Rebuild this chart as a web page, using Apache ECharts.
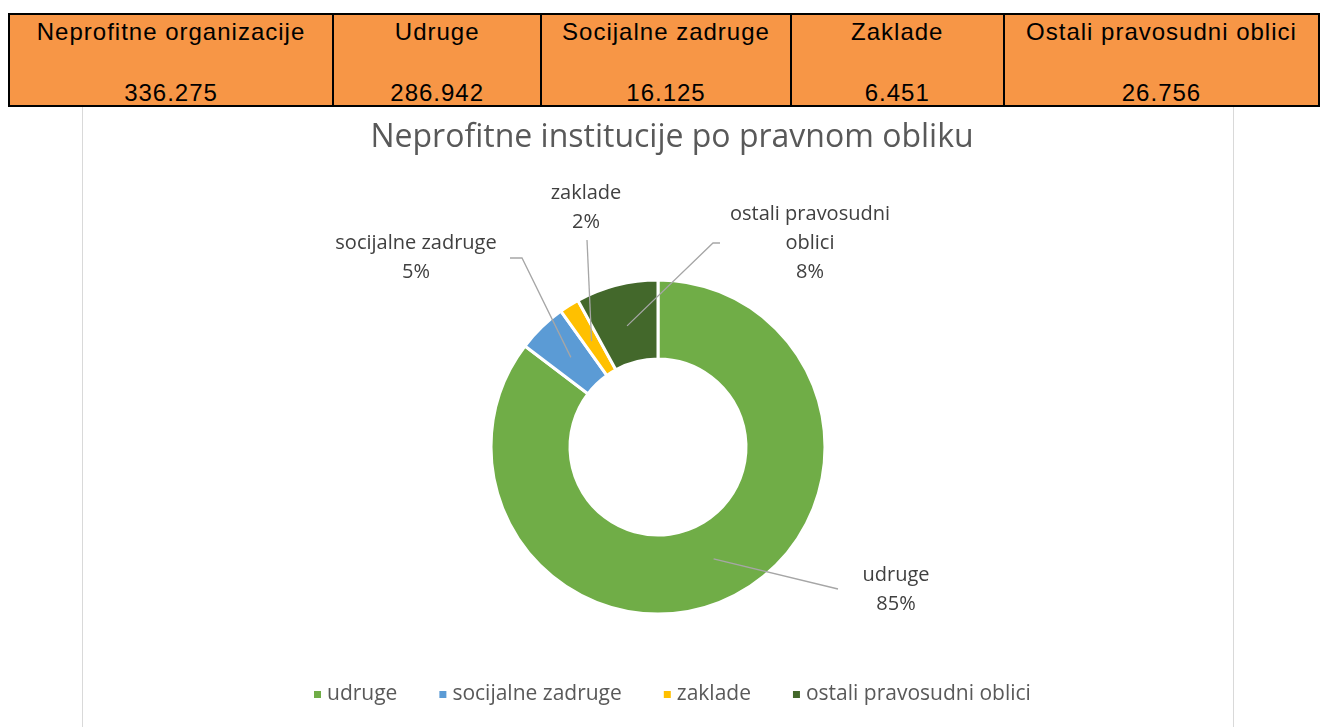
<!DOCTYPE html>
<html>
<head>
<meta charset="utf-8">
<script src="https://cdn.jsdelivr.net/npm/echarts@6/dist/echarts.min.js"></script>
<style>
  html, body { margin: 0; padding: 0; background: #fff; overflow: hidden; }
  .tbl {
    position: absolute; left: 8px; top: 13px; width: 1312px; height: 94px;
    display: flex; border: 2px solid #000; box-sizing: border-box;
    background: #F79646; z-index: 2;
    font-family: "Liberation Sans", Arial, sans-serif; font-size: 24px; color: #000;
    letter-spacing: 1px;
  }
  .cell {
    position: relative; border-right: 2px solid #000; box-sizing: border-box;
    text-align: center;
  }
  .cell:last-child { border-right: none; }
  .cell .h { position: absolute; left: 0; right: 0; top: 3px; }
  .cell .v { position: absolute; left: 0; right: 0; top: 64px; }
  #chart {
    position: absolute; left: 82px; top: 106px; width: 1152px; height: 640px;
    border: 1px solid #d9d9d9; box-sizing: border-box; z-index: 1;
  }
</style>
</head>
<body>
<div class="tbl" id="tbl"></div>
<div id="chart"></div>
<script>
  // tablica iznad grafikona
  const tableHeaders = ["Neprofitne organizacije", "Udruge", "Socijalne zadruge", "Zaklade", "Ostali pravosudni oblici"];
  const tableValues = ["336.275", "286.942", "16.125", "6.451", "26.756"];
  const tableWidths = [325, 209, 250, 214, 314];

  // podaci za grafikon
  const categories = ["udruge", "socijalne zadruge", "zaklade", "ostali pravosudni oblici"];
  const labelTexts = ["udruge", "socijalne zadruge", "zaklade", "ostali pravosudni\noblici"];
  const values = [286942, 16125, 6451, 26756];
  const colors = ["#70AD47", "#5B9BD5", "#FFC000", "#43682B"];

  const tbl = document.getElementById("tbl");
  tableHeaders.forEach((h, i) => {
    const c = document.createElement("div");
    c.className = "cell";
    c.style.width = tableWidths[i] + "px";
    c.innerHTML = '<div class="h">' + h + '</div><div class="v">' + tableValues[i] + "</div>";
    tbl.appendChild(c);
  });

  const myChart = echarts.init(document.getElementById("chart"));

  const center = [575, 340];
  const radius = [88, 167];
  const lineStartR = 125;
  // pozicije natpisa (sredina bloka teksta) i kraj linije
  const labelPos = [
    { x: 813, y: 483, end: [[755, 482]] },
    { x: 333, y: 151, end: [[439, 151], [427, 151]] },
    { x: 503, y: 101, end: [[504, 133]] },
    { x: 727, y: 136, end: [[630, 136], [637, 136]] },
  ];

  // linije od sredine prstena do natpisa
  const total = values.reduce((a, b) => a + b, 0);
  let cum = 0;
  const leaderLines = values.map((v, i) => {
    const theta = ((cum + v / 2) / total) * Math.PI * 2;
    cum += v;
    const start = [
      center[0] + lineStartR * Math.sin(theta),
      center[1] - lineStartR * Math.cos(theta),
    ];
    return {
      type: "polyline",
      z: 100,
      silent: true,
      shape: { points: [start].concat(labelPos[i].end) },
      style: { stroke: "#a6a6a6", lineWidth: 1.3, fill: null },
    };
  });

  myChart.setOption({
    title: {
      text: "Neprofitne institucije po pravnom obliku",
      left: 584,
      textAlign: "center",
      top: 10,
      textStyle: {
        color: "#595959",
        fontSize: 32,
        fontWeight: "normal",
        fontFamily: "Open Sans",
      },
    },
    legend: {
      left: 224,
      top: 572,
      itemWidth: 9,
      itemHeight: 9,
      itemGap: 40,
      icon: "rect",
      textStyle: { color: "#595959", fontSize: 21, fontFamily: "Open Sans" },
      data: categories,
    },
    color: colors,
    graphic: leaderLines,
    series: [
      {
        type: "pie",
        center: center,
        radius: radius,
        startAngle: 90,
        clockwise: true,
        percentPrecision: 0,
        avoidLabelOverlap: false,
        itemStyle: { borderColor: "#fff", borderWidth: 3 },
        label: {
          show: true,
          position: "outside",
          color: "#404040",
          fontSize: 20,
          lineHeight: 29,
          fontFamily: "Open Sans",
          align: "center",
          formatter: (p) => labelTexts[p.dataIndex] + "\n" + p.percent + "%",
        },
        labelLine: { show: false },
        labelLayout: function (params) {
          const pos = labelPos[params.dataIndex];
          return { x: pos.x, y: pos.y, align: "center", verticalAlign: "middle" };
        },
        data: categories.map((name, i) => ({ name: name, value: values[i] })),
      },
    ],
  });
</script>
</body>
</html>
